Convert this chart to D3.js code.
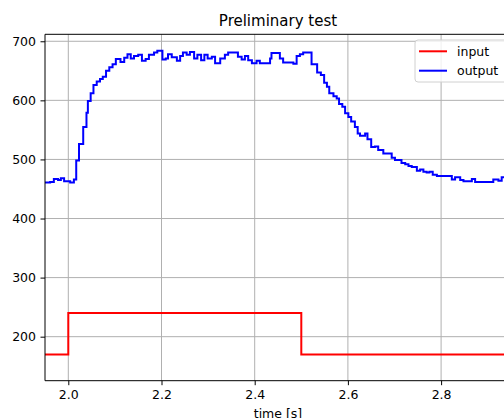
<!DOCTYPE html>
<html>
<head>
<meta charset="utf-8">
<script src="https://cdn.jsdelivr.net/npm/d3@7"></script>
<style>
  body { margin: 0; background: #fff; }
  svg { display: block; font-family: "DejaVu Sans", sans-serif; }
</style>
</head>
<body>
<svg width="504" height="418"></svg>
<script>
// step series: time of each step and its level
var inputT = [1.95, 2.0, 2.5, 2.95];
var inputV = [170, 240, 170, 170];

var outputT = [1.950, 1.961, 1.969, 1.978, 1.984, 1.991, 2.004, 2.012, 2.017, 2.023,
  2.032, 2.039, 2.042, 2.048, 2.054, 2.061, 2.068, 2.074, 2.081, 2.088,
  2.095, 2.102, 2.112, 2.120, 2.127, 2.134, 2.141, 2.150, 2.158, 2.166,
  2.173, 2.184, 2.191, 2.202, 2.209, 2.214, 2.222, 2.233, 2.240, 2.246,
  2.254, 2.261, 2.270, 2.277, 2.285, 2.292, 2.299, 2.308, 2.315, 2.326,
  2.336, 2.343, 2.364, 2.372, 2.379, 2.386, 2.394, 2.404, 2.411, 2.433,
  2.436, 2.454, 2.461, 2.483, 2.490, 2.497, 2.504, 2.522, 2.534, 2.542,
  2.549, 2.555, 2.560, 2.569, 2.576, 2.581, 2.588, 2.594, 2.601, 2.607,
  2.615, 2.621, 2.626, 2.637, 2.642, 2.650, 2.658, 2.665, 2.676, 2.694,
  2.701, 2.715, 2.723, 2.730, 2.737, 2.748, 2.755, 2.762, 2.769, 2.775,
  2.782, 2.791, 2.812, 2.823, 2.830, 2.841, 2.848, 2.866, 2.873, 2.912,
  2.923, 2.930, 2.950];
var outputV = [461, 462, 467, 465, 468, 463, 461, 466, 498, 526,
  555, 579, 599, 612, 626, 632, 636, 640, 650, 656,
  661, 670, 665, 672, 678, 671, 675, 677, 667, 670,
  677, 681, 684, 669, 671, 678, 673, 667, 675, 681,
  677, 682, 671, 677, 668, 677, 671, 674, 663, 671,
  677, 681, 674, 669, 675, 668, 663, 667, 663, 671,
  680, 671, 664, 662, 675, 678, 681, 661, 647, 643,
  630, 623, 612, 607, 603, 594, 589, 578, 572, 564,
  555, 544, 540, 544, 534, 521, 522, 516, 510, 503,
  499, 494, 492, 489, 487, 481, 483, 479, 478, 479,
  474, 472, 472, 466, 470, 465, 463, 467, 462, 466,
  464, 470, 470];

var xTicks = [2.0, 2.2, 2.4, 2.6, 2.8];
var yTicks = [200, 300, 400, 500, 600, 700];

var svg = d3.select("svg"),
    margin = {top: 34.3, left: 45, right: 511, bottom: 380.7};

var x = d3.scaleLinear().domain([1.95, 2.95]).range([margin.left, margin.right]);
var y = d3.scaleLinear().domain([125.5, 711.8]).range([margin.bottom, margin.top]);

svg.append("clipPath").attr("id", "plot")
  .append("rect")
  .attr("x", margin.left).attr("y", margin.top)
  .attr("width", margin.right - margin.left)
  .attr("height", margin.bottom - margin.top);

// grid
var grid = svg.append("g").attr("stroke", "#b0b0b0").attr("stroke-width", 1);
xTicks.forEach(function(t) {
  grid.append("line").attr("x1", x(t)).attr("x2", x(t))
    .attr("y1", margin.top).attr("y2", margin.bottom);
});
yTicks.forEach(function(t) {
  grid.append("line").attr("y1", y(t)).attr("y2", y(t))
    .attr("x1", margin.left).attr("x2", margin.right);
});

var line = d3.line()
  .x(d => x(d[0]))
  .y(d => y(d[1]))
  .curve(d3.curveStepAfter);

var series = [
  {name: "input", color: "#ff0000", data: d3.zip(inputT, inputV)},
  {name: "output", color: "#0000ff", data: d3.zip(outputT, outputV)}
];

var lines = svg.append("g").attr("clip-path", "url(#plot)");
series.forEach(function(s) {
  lines.append("path")
    .datum(s.data)
    .attr("fill", "none")
    .attr("stroke", s.color)
    .attr("stroke-width", 2)
    .attr("stroke-linejoin", "miter")
    .attr("d", line);
});

// axes
var xAxis = svg.append("g")
  .attr("transform", "translate(0," + margin.bottom + ")")
  .call(d3.axisBottom(x).tickValues(xTicks).tickFormat(d3.format(".1f")).tickSize(4.5).tickPadding(4.5));
var yAxis = svg.append("g")
  .attr("transform", "translate(" + margin.left + ",0)")
  .call(d3.axisLeft(y).tickValues(yTicks).tickFormat(d3.format("d")).tickSize(4.5).tickPadding(4.5));

[xAxis, yAxis].forEach(function(a) {
  a.select(".domain").remove();
  a.selectAll("text").attr("font-size", "12.5px").attr("fill", "#000")
    .attr("font-family", "DejaVu Sans");
  a.selectAll("line").attr("stroke", "#000").attr("stroke-width", 1);
});

// spines
svg.append("line").attr("x1", margin.left).attr("x2", margin.left)
  .attr("y1", margin.top).attr("y2", margin.bottom).attr("stroke", "#000");
svg.append("line").attr("x1", margin.left).attr("x2", margin.right)
  .attr("y1", margin.bottom).attr("y2", margin.bottom).attr("stroke", "#000");
svg.append("line").attr("x1", margin.left).attr("x2", margin.right)
  .attr("y1", margin.top).attr("y2", margin.top).attr("stroke", "#000");
svg.append("line").attr("x1", margin.right).attr("x2", margin.right)
  .attr("y1", margin.top).attr("y2", margin.bottom).attr("stroke", "#000");

svg.append("text")
  .attr("x", (margin.left + margin.right) / 2).attr("y", 26)
  .attr("text-anchor", "middle").attr("font-size", "15px")
  .text("Preliminary test");

svg.append("text")
  .attr("x", (margin.left + margin.right) / 2).attr("y", 418)
  .attr("text-anchor", "middle").attr("font-size", "12.5px")
  .text("time [s]");

// legend
var legend = svg.append("g").attr("transform", "translate(415,40)");
legend.append("rect")
  .attr("width", 100).attr("height", 42).attr("rx", 3)
  .attr("fill", "#fff").attr("fill-opacity", 0.8)
  .attr("stroke", "#d0d0d0");
series.forEach(function(s, i) {
  var ly = 11.3 + i * 19.4;
  legend.append("line").attr("x1", 4).attr("x2", 32)
    .attr("y1", ly).attr("y2", ly)
    .attr("stroke", s.color).attr("stroke-width", 2);
  legend.append("text").attr("x", 42).attr("y", ly + 4.5)
    .attr("font-size", "12.5px").text(s.name);
});
</script>
</body>
</html>
